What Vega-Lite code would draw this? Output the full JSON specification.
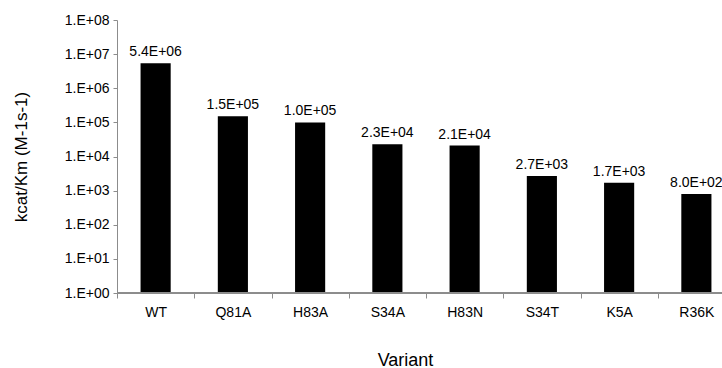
{
  "$schema": "https://vega.github.io/schema/vega-lite/v6.json",
  "width": 618,
  "height": 273,
  "autosize": {"type": "none"},
  "padding": {"left": 117, "top": 20, "right": 0, "bottom": 75},
  "background": "white",
  "config": {
    "view": {"stroke": null},
    "font": "Liberation Sans",
    "axis": {"grid": false, "domainColor": "#8c8c8c", "tickColor": "#8c8c8c", "labelColor": "black", "titleColor": "black", "titleFontWeight": "normal"},
    "axisX": {"domain": true, "ticks": true}
  },
  "data": {
    "values": [
      {"variant": "WT", "kcat_km": 5400000},
      {"variant": "Q81A", "kcat_km": 150000},
      {"variant": "H83A", "kcat_km": 100000},
      {"variant": "S34A", "kcat_km": 23000},
      {"variant": "H83N", "kcat_km": 21000},
      {"variant": "S34T", "kcat_km": 2700},
      {"variant": "K5A", "kcat_km": 1700},
      {"variant": "R36K", "kcat_km": 800}
    ]
  },
  "transform": [
    {"calculate": "floor(log(datum.kcat_km) / LN10 + 1e-9)", "as": "exponent"},
    {"calculate": "format(datum.kcat_km / pow(10, datum.exponent), '.1f') + 'E+' + format(datum.exponent, '02d')", "as": "label"}
  ],
  "encoding": {
    "x": {
      "field": "variant",
      "type": "nominal",
      "sort": null,
      "scale": {"paddingInner": 0, "paddingOuter": 0},
      "axis": {
        "title": "Variant",
        "titleFontSize": 18,
        "titlePadding": 32,
        "titleX": 288,
        "labelAngle": 0,
        "labelFontSize": 14,
        "labelPadding": 7,
        "tickBand": "extent",
        "tickSize": 5
      }
    },
    "y": {
      "field": "kcat_km",
      "type": "quantitative",
      "scale": {"type": "log", "domain": [1, 100000000]},
      "axis": {
        "title": "kcat/Km (M-1s-1)",
        "titleFontSize": 17,
        "titlePadding": 34,
        "values": [1, 10, 100, 1000, 10000, 100000, 1000000, 10000000, 100000000],
        "labelExpr": "'1.E+' + format(round(log(datum.value) / LN10), '02d')",
        "labelFontSize": 14,
        "labelPadding": 4,
        "tickSize": 4
      }
    }
  },
  "layer": [
    {
      "mark": {"type": "bar", "color": "black", "width": {"band": 0.39}},
      "encoding": {"y2": {"datum": 1}}
    },
    {
      "mark": {"type": "rule", "color": "#8c8c8c", "strokeWidth": 1},
      "encoding": {"y": {"datum": 1}, "x": null}
    },
    {
      "mark": {"type": "text", "baseline": "bottom", "dy": -4, "fontSize": 14, "color": "black"},
      "encoding": {"text": {"field": "label"}}
    }
  ]
}
